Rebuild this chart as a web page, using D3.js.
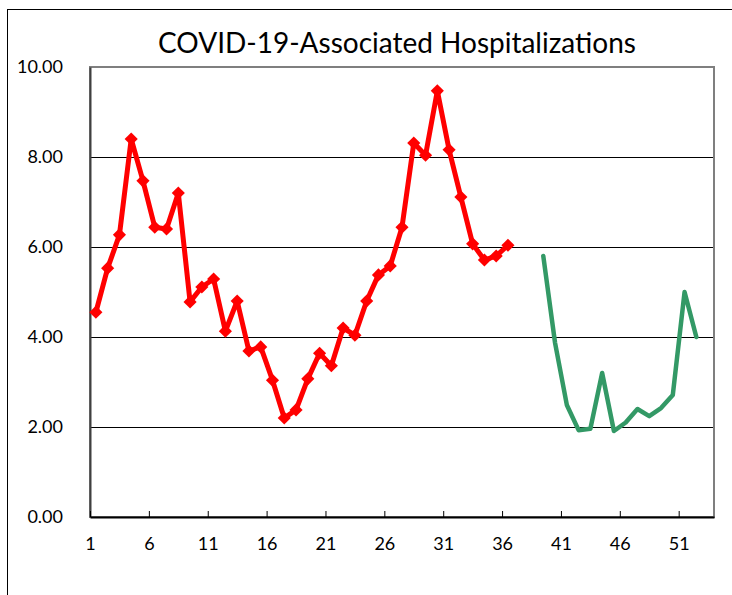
<!DOCTYPE html>
<html lang="en">
<head>
<meta charset="utf-8">
<title>COVID-19-Associated Hospitalizations</title>
<script src="https://d3js.org/d3.v7.min.js"></script>
<style>
  body { margin: 0; background: #fff; }
  svg text { font-family: "Lato", "DejaVu Sans", sans-serif; fill: #000; }
</style>
</head>
<body>
<script>
// weekly rate, current season (weeks 1-36) and following weeks (39-52)
var redWeeks = d3.range(1, 37);
var redValues = [4.55, 5.53, 6.27, 8.40, 7.47, 6.44, 6.40, 7.20, 4.78, 5.11,
                 5.29, 4.13, 4.80, 3.69, 3.78, 3.04, 2.20, 2.38, 3.07, 3.64,
                 3.36, 4.20, 4.04, 4.80, 5.38, 5.58, 6.44, 8.31, 8.04, 9.47,
                 8.16, 7.11, 6.07, 5.71, 5.80, 6.04];
var greenWeeks = d3.range(39, 53);
var greenValues = [5.80, 3.87, 2.49, 1.93, 1.96, 3.20, 1.91, 2.10, 2.40, 2.24,
                   2.42, 2.71, 5.00, 4.00];
var xTickLabels = [1, 6, 11, 16, 21, 26, 31, 36, 41, 46, 51];
var yTicks = [0, 2, 4, 6, 8, 10];

var width = 732, height = 595;
var plot = { left: 90, right: 714, top: 67, bottom: 517 };

var svg = d3.select("body").append("svg")
    .attr("width", width)
    .attr("height", height);

// outer chart border
svg.append("rect")
    .attr("x", 7.5).attr("y", 9.5)
    .attr("width", 740).attr("height", 600)
    .attr("fill", "none").attr("stroke", "#000").attr("stroke-width", 1);

var x = d3.scaleLinear().domain([0.5, 53.5]).range([plot.left, plot.right]);
var y = d3.scaleLinear().domain([0, 10]).range([plot.bottom, plot.top]);

// gridlines
svg.append("g")
  .selectAll("line")
  .data(yTicks.filter(function(d) { return d > 0 && d < 10; }))
  .enter().append("line")
    .attr("x1", plot.left).attr("x2", plot.right)
    .attr("y1", function(d) { return Math.round(y(d)) + 0.5; })
    .attr("y2", function(d) { return Math.round(y(d)) + 0.5; })
    .attr("stroke", "#000").attr("stroke-width", 1);

// plot frame
svg.append("rect")
    .attr("x", plot.left).attr("y", plot.top)
    .attr("width", plot.right - plot.left).attr("height", plot.bottom - plot.top)
    .attr("fill", "none").attr("stroke", "#7f7f7f").attr("stroke-width", 2);

// y axis labels
svg.append("g")
    .attr("transform", "translate(" + plot.left + ",0)")
    .call(d3.axisLeft(y).tickValues(yTicks).tickSize(0).tickPadding(27)
      .tickFormat(d3.format(".2f")))
    .call(function(g) { g.select(".domain").attr("stroke", "#404040").attr("stroke-width", 2); })
    .selectAll("text")
      .style("font-size", "18px");

// x axis, ticks on category boundaries pointing inward
svg.append("g")
    .attr("transform", "translate(0," + plot.bottom + ")")
    .call(d3.axisBottom(x)
      .tickValues(xTickLabels.map(function(d) { return d - 0.5; }))
      .tickSizeInner(-6).tickSizeOuter(0).tickPadding(20)
      .tickFormat(function(d) { return d + 0.5; }))
    .call(function(g) {
      g.select(".domain").attr("stroke", "#000").attr("stroke-width", 2);
      g.selectAll(".tick line").attr("stroke", "#000");
    })
    .selectAll("text")
      .style("font-size", "18px");

var line = d3.line()
    .x(function(d) { return x(d[0]); })
    .y(function(d) { return y(d[1]); });

var redData = redWeeks.map(function(w, i) { return [w, redValues[i]]; });
var greenData = greenWeeks.map(function(w, i) { return [w, greenValues[i]]; });

svg.append("path")
    .datum(greenData)
    .attr("d", line)
    .attr("fill", "none").attr("stroke", "#339966").attr("stroke-width", 4.5)
    .attr("stroke-linejoin", "round").attr("stroke-linecap", "round");

svg.append("path")
    .datum(redData)
    .attr("d", line)
    .attr("fill", "none").attr("stroke", "#ff0000").attr("stroke-width", 5)
    .attr("stroke-linejoin", "round");

svg.append("g")
  .selectAll("path")
  .data(redData)
  .enter().append("path")
    .attr("d", d3.symbol().type(d3.symbolDiamond2).size(110))
    .attr("transform", function(d) { return "translate(" + x(d[0]) + "," + y(d[1]) + ")"; })
    .attr("fill", "#ff0000");

svg.append("text")
    .attr("x", 397).attr("y", 53)
    .attr("text-anchor", "middle")
    .style("font-size", "28px")
    .text("COVID-19-Associated Hospitalizations");
</script>
</body>
</html>
